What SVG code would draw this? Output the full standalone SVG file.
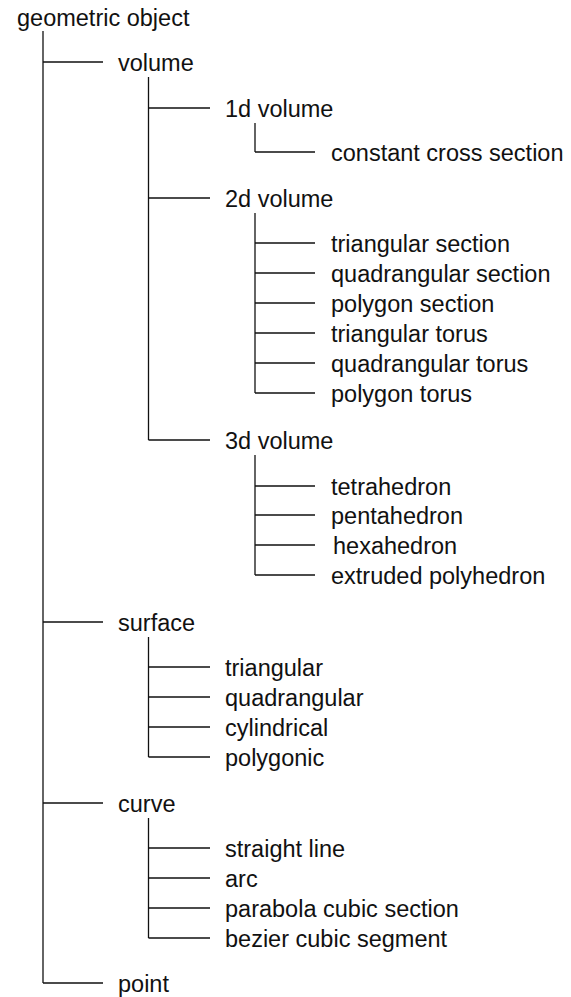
<svg xmlns="http://www.w3.org/2000/svg" width="571" height="997" viewBox="0 0 571 997">
  <style>
    .bg { fill: #ffffff; }
    .lbl { font-family: "Liberation Sans", Arial, sans-serif; font-size: 23.5px; fill: #111111; }
    .ln { stroke: #111111; stroke-width: 1.3; fill: none; }
  </style>
  <rect class="bg" x="0" y="0" width="571" height="997"/>

  <!-- tree connectors: vertical trunks and horizontal branches -->
  <g id="connectors">
    <path class="ln" d="M43 31 V983"/>
    <path class="ln" d="M43 62 H103 M43 622 H103 M43 803 H103 M43 983 H103"/>

    <path class="ln" d="M148.5 77 V440"/>
    <path class="ln" d="M148.5 108 H210 M148.5 198 H210 M148.5 440 H210"/>

    <path class="ln" d="M255 123 V152 M255 152 H315"/>

    <path class="ln" d="M255 213 V393"/>
    <path class="ln" d="M255 243 H315 M255 273 H315 M255 303 H315 M255 333 H315 M255 363 H315 M255 393 H315"/>

    <path class="ln" d="M255 455 V575"/>
    <path class="ln" d="M255 486 H315 M255 515 H315 M255 545 H315 M255 575 H315"/>

    <path class="ln" d="M148.5 637 V757"/>
    <path class="ln" d="M148.5 667 H210 M148.5 697 H210 M148.5 727 H210 M148.5 757 H210"/>

    <path class="ln" d="M148.5 818 V938"/>
    <path class="ln" d="M148.5 848 H210 M148.5 878 H210 M148.5 908 H210 M148.5 938 H210"/>
  </g>

  <g id="geometric-object"><text class="lbl" x="17" y="25.5">geometric object</text></g>

  <g id="volume"><text class="lbl" x="118" y="70.5">volume</text></g>
  <g id="volume-1d"><text class="lbl" x="225" y="116.5">1d volume</text></g>
  <g id="constant-cross-section"><text class="lbl" x="331" y="160.5">constant cross section</text></g>
  <g id="volume-2d"><text class="lbl" x="225" y="206.5">2d volume</text></g>
  <g id="triangular-section"><text class="lbl" x="331" y="251.5">triangular section</text></g>
  <g id="quadrangular-section"><text class="lbl" x="331" y="281.5">quadrangular section</text></g>
  <g id="polygon-section"><text class="lbl" x="331" y="311.5">polygon section</text></g>
  <g id="triangular-torus"><text class="lbl" x="331" y="341.5">triangular torus</text></g>
  <g id="quadrangular-torus"><text class="lbl" x="331" y="371.5">quadrangular torus</text></g>
  <g id="polygon-torus"><text class="lbl" x="331" y="401.5">polygon torus</text></g>
  <g id="volume-3d"><text class="lbl" x="225" y="448.5">3d volume</text></g>
  <g id="tetrahedron"><text class="lbl" x="331" y="494.5">tetrahedron</text></g>
  <g id="pentahedron"><text class="lbl" x="331" y="523.5">pentahedron</text></g>
  <g id="hexahedron"><text class="lbl" x="333" y="553.5">hexahedron</text></g>
  <g id="extruded-polyhedron"><text class="lbl" x="331" y="583.5">extruded polyhedron</text></g>

  <g id="surface"><text class="lbl" x="118" y="630.5">surface</text></g>
  <g id="surface-triangular"><text class="lbl" x="225" y="675.5">triangular</text></g>
  <g id="surface-quadrangular"><text class="lbl" x="225" y="705.5">quadrangular</text></g>
  <g id="surface-cylindrical"><text class="lbl" x="225" y="735.5">cylindrical</text></g>
  <g id="surface-polygonic"><text class="lbl" x="225" y="765.5">polygonic</text></g>

  <g id="curve"><text class="lbl" x="118" y="811.5">curve</text></g>
  <g id="straight-line"><text class="lbl" x="225" y="856.5">straight line</text></g>
  <g id="arc"><text class="lbl" x="225" y="886.5">arc</text></g>
  <g id="parabola-cubic-section"><text class="lbl" x="225" y="916.5">parabola cubic section</text></g>
  <g id="bezier-cubic-segment"><text class="lbl" x="225" y="946.5">bezier cubic segment</text></g>

  <g id="point"><text class="lbl" x="118" y="991.5">point</text></g>
</svg>
